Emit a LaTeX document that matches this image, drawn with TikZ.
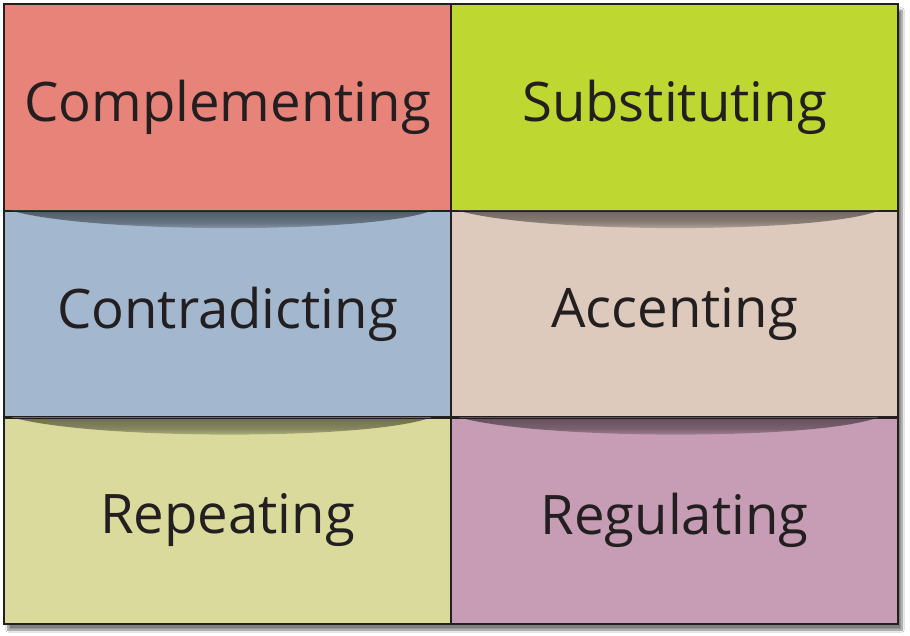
\documentclass[tikz,border=0pt]{standalone}
\usepackage{fontspec}
\setmainfont{Open Sans}
\usetikzlibrary{shadows.blur}
\definecolor{cA}{HTML}{E8837A}
\definecolor{cB}{HTML}{BFD731}
\definecolor{cC}{HTML}{A3B8CF}
\definecolor{cD}{HTML}{DDCABC}
\definecolor{cE}{HTML}{D9DA9B}
\definecolor{cF}{HTML}{C79DB6}
\definecolor{ink}{HTML}{231F20}
\tikzset{
  cell/.style={draw=ink, line width=1.2pt, minimum width=447pt, minimum height=207pt, inner sep=0pt, font=\fontsize{54.5}{60}\selectfont, text=ink},
}
\begin{document}
\begin{tikzpicture}[x=1pt,y=-1pt]
\useasboundingbox (0,0) rectangle (910,636);
\fill[white] (0,0) rectangle (910,636);
\fill[blur shadow={shadow xshift=4pt, shadow yshift=-6pt, shadow blur steps=8, shadow opacity=50}] (4,4) rectangle (898,624);
\node[cell, fill=cA] (comp) at (227.5,107.5) {Complementing};
\node[cell, fill=cB] (subs) at (674.5,107.5) {Substituting};
\node[cell, fill=cC] (cont) at (227.5,314) {Contradicting};
\node[cell, fill=cD] (acce) at (674.5,314) {Accenting};
\node[cell, fill=cE] (repe) at (227.5,520.5) {Repeating};
\node[cell, fill=cF] (regu) at (674.5,520.5) {Regulating};
% soft shadows under the row dividers
\foreach \n/\c in {cont/cC,acce/cD,repe/cE,regu/cF}{
  \shade[top color=black!50!\c, bottom color=\c, middle color=black!38!\c]
    ([xshift=8pt,yshift=-0.8pt]\n.north west) -- ([xshift=-20pt,yshift=-0.8pt]\n.north east)
    .. controls ([xshift=-80pt,yshift=-24pt]\n.north east) and ([xshift=90pt,yshift=-24pt]\n.north west) .. ([xshift=8pt,yshift=-0.8pt]\n.north west);
}
\draw[ink, line width=1.2pt] (comp.north west) rectangle (regu.south east);
\draw[ink, line width=1.2pt] (comp.north east) -- (regu.south west -| comp.north east);
\draw[ink, line width=1.2pt] (comp.south west) -- (subs.south east);
\draw[ink, line width=1.2pt] (cont.south west) -- (acce.south east);
\end{tikzpicture}
\end{document}
